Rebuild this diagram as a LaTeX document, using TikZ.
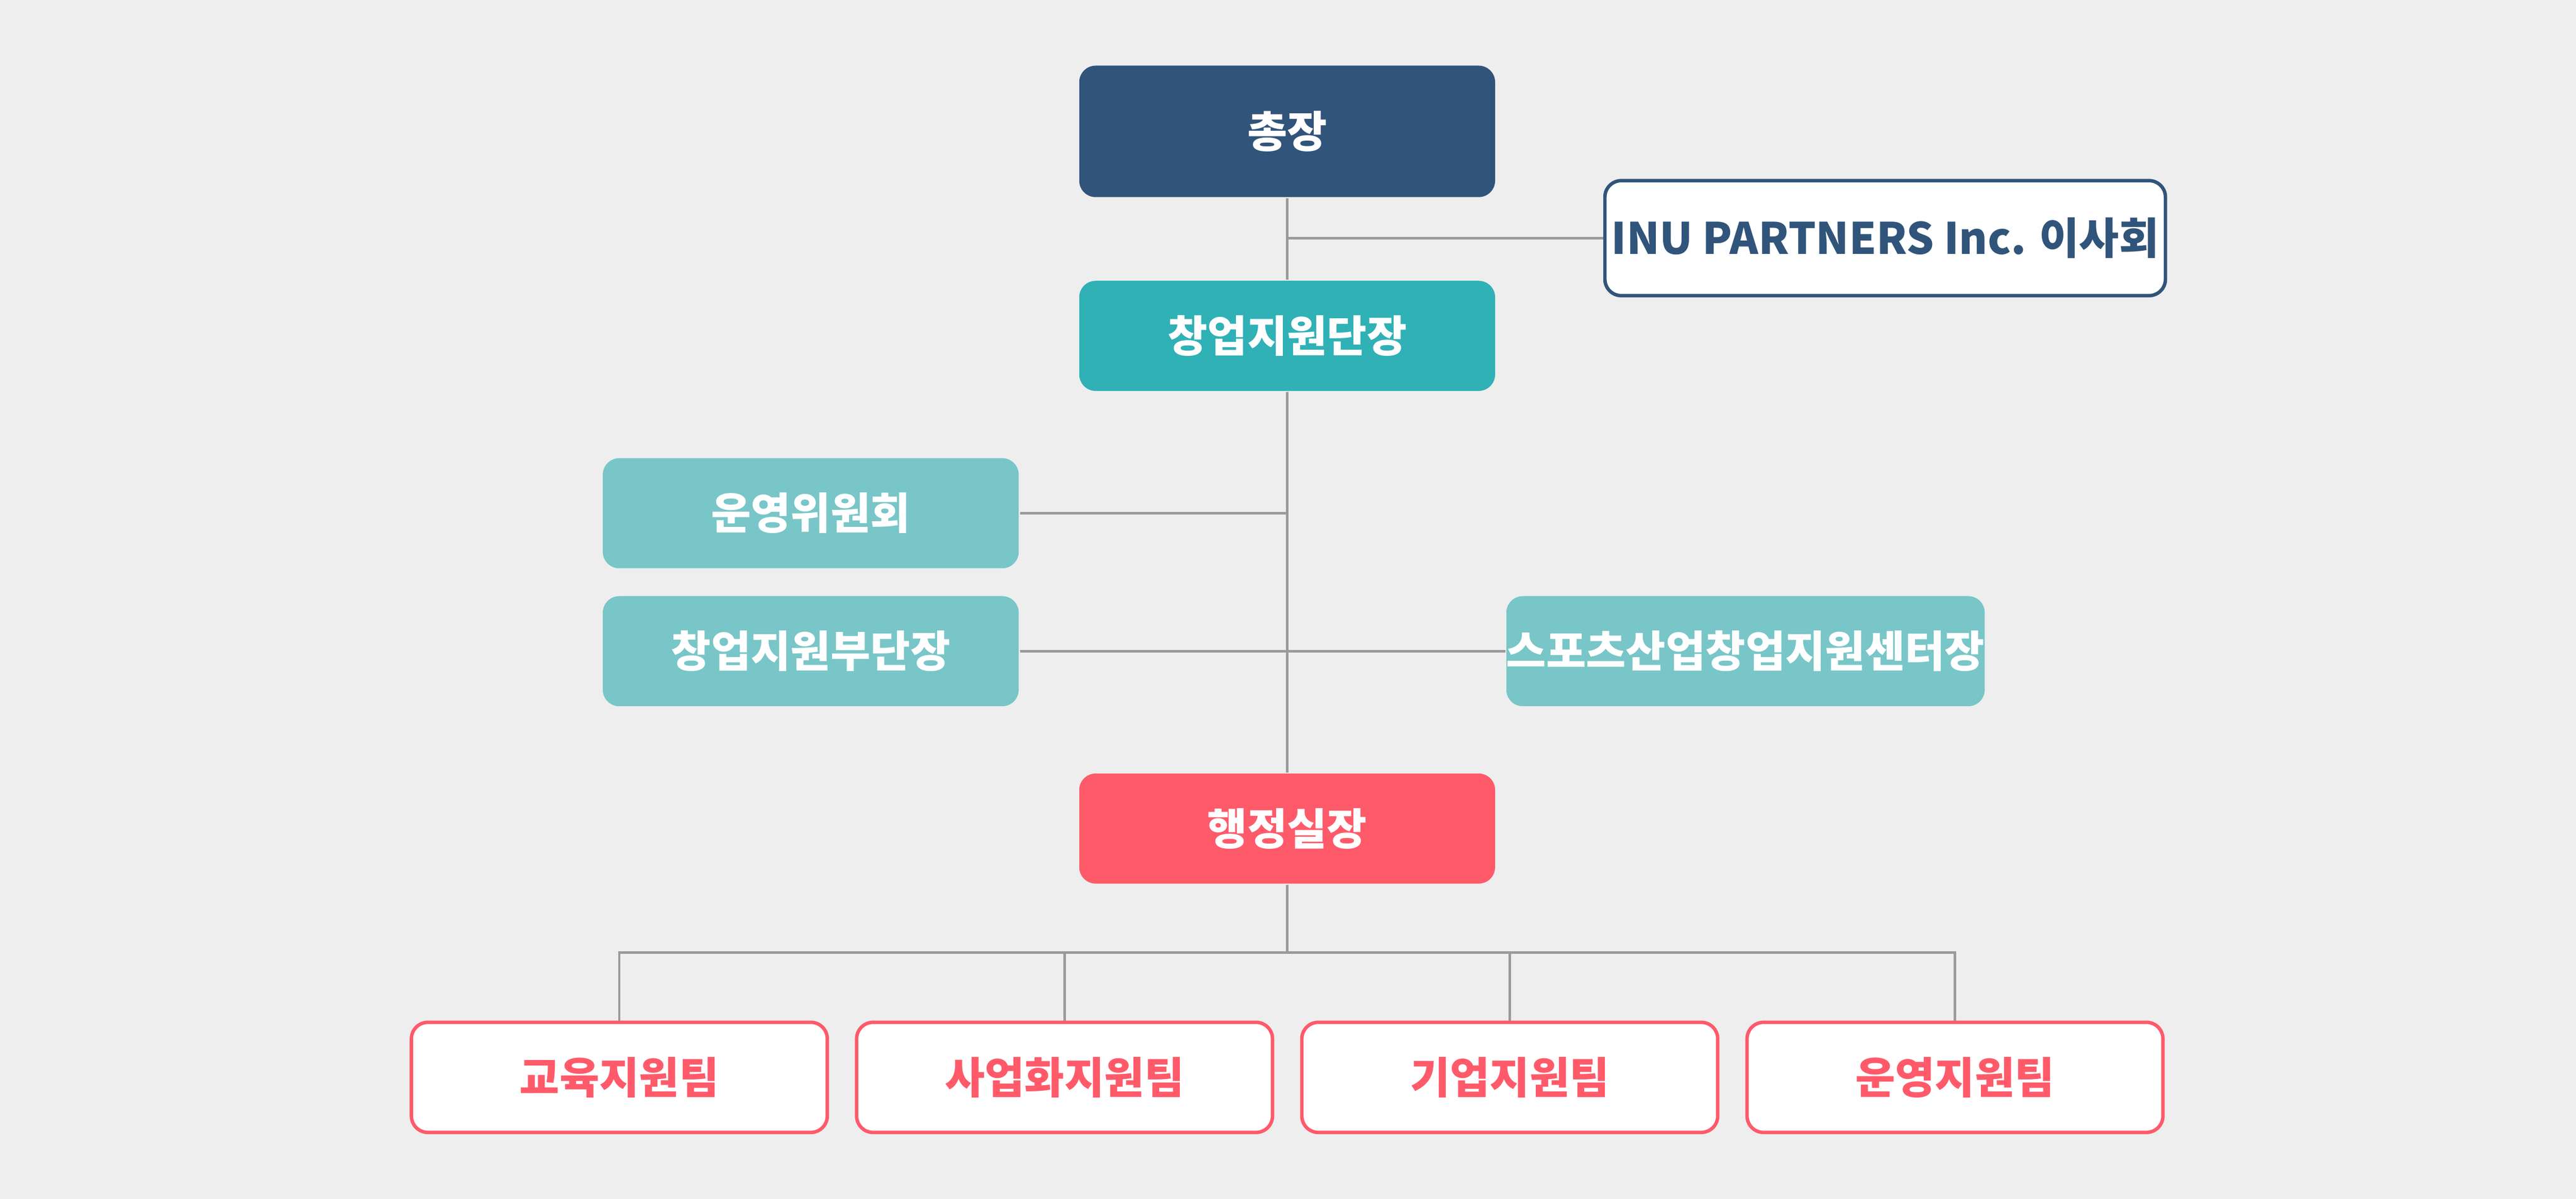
\documentclass[tikz,border=0pt]{standalone}
\usepackage{fontspec}
\setmainfont{Noto Sans CJK KR}
\usetikzlibrary{positioning}
\definecolor{bgray}{HTML}{EEEEEE}
\definecolor{navy}{HTML}{31547A}
\definecolor{teal}{HTML}{2FB1B6}
\definecolor{lteal}{HTML}{78C6C8}
\definecolor{coral}{HTML}{FF5A6A}
\definecolor{linegray}{HTML}{9A9A9A}
\tikzset{
  box/.style={rounded corners=0.1cm, minimum width=2.53cm, minimum height=0.67cm,
    font=\fontsize{7.5}{9}\selectfont\bfseries, text=white, inner sep=0pt},
  team/.style={box, fill=white, draw=coral, line width=0.6pt, text=coral},
  link/.style={draw=linegray, line width=0.4pt}
}
\begin{document}
\begin{tikzpicture}[x=0.01cm, y=-0.01cm]
    \fill[bgray] (0,0) rectangle (1568,730);
    % top of the chart
    \node[box, fill=navy, minimum height=0.8cm] (pres) at (783.5,80) {총장};
    \node[box, fill=white, draw=navy, line width=0.6pt, text=navy, minimum width=3.41cm, minimum height=0.7cm] (board) at (1147.5,145) {INU PARTNERS Inc. 이사회};
    \node[box, fill=teal] (head) at (783.5,204.5) {창업지원단장};
    % middle boxes
    \node[box, fill=lteal] (comm) at (493.5,312.5) {운영위원회};
    \node[box, fill=lteal] (vice) at (493.5,396.5) {창업지원부단장};
    \node[box, fill=lteal, minimum width=2.87cm] (sport) at (1062.5,396.5) {스포츠산업창업지원센터장};
    \node[box, fill=coral] (admin) at (783.5,504.5) {행정실장};
    % teams
    \node[team] (edu) at (377,656) {교육지원팀};
    \node[team] (biz) at (648,656) {사업화지원팀};
    \node[team] (corp) at (919,656) {기업지원팀};
    \node[team] (oper) at (1190,656) {운영지원팀};
    % connectors
    \coordinate (j1) at (783.5,145);
    \coordinate (j2) at (783.5,312.5);
    \coordinate (j3) at (783.5,396.5);
    \coordinate (j4) at (783.5,580);
    \path[link] (pres) -- (head) (head) -- (admin) (admin) -- (j4);
    \path[link] (j1) -- (board) (j2) -- (comm) (j3) -- (vice) (j3) -- (sport);
    \path[link] (edu.north) -- (edu.north |- j4) -- (oper.north |- j4) -- (oper.north);
    \path[link] (biz.north) -- (biz.north |- j4);
    \path[link] (corp.north) -- (corp.north |- j4);
\end{tikzpicture}
\end{document}
